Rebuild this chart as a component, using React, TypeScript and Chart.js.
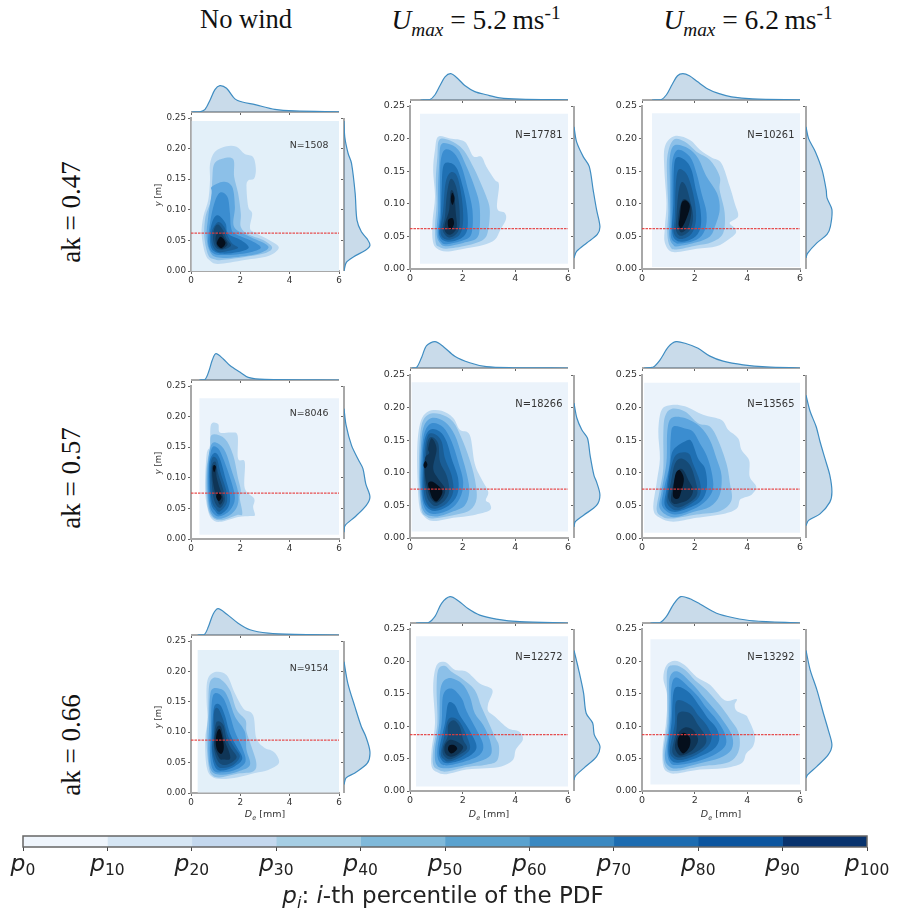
import React, { useEffect, useRef } from "react";
import { Chart, registerables } from "chart.js";

Chart.register(...registerables);

// ---------- data (De in mm, y in cm, flat pairs De,y) ----------
const rowLabels = ["ak = 0.47", "ak = 0.57", "ak = 0.66"];
const sampleCounts = [1508, 17781, 10261, 8046, 18266, 13565, 9154, 12272, 13292];
const crestHeights = [0.062, 0.075, 0.087];
const percentileTicks = [0, 10, 20, 30, 40, 50, 60, 70, 80, 90, 100];
const percentileColors = ["#eff5fc", "#d6e6f4", "#c4d8ee", "#a6cee4", "#7fb9da", "#5aa2cf", "#3a88c1", "#1c6cb1", "#0b559f", "#08336e"];
const levelColors = ["#bbd9f1", "#8cc0e8", "#5ea6df", "#3b8dd0", "#1f70b3", "#1a5d95", "#154a76", "#0f3556", "#050f1c"];

const domainA = [0.03, 0, 6, 24.5];
const domainB = [0.38, 0.8, 6, 23.8];
const domainC = [0.38, 0.3, 6, 23.9];
const domainD = [0.34, 0.7, 6, 23];
const domainE = [0.06, 1, 6, 23.9];
const domainF = [0.08, 0.8, 6, 23.8];
const domainG = [0.27, 0.1, 6, 23.5];
const domainH = [0.23, 0.7, 6, 23.9];
const domainI = [0.32, 1, 6, 23.4];

const contoursA = [
  [1.1,1.15,2.18,1.8,3.13,2.45,3.56,3.85,3.13,5.15,2.52,6.4,2.39,7.2,2.48,9.4,2.32,10.5,2.25,13.75,2.32,14.8,2.56,15.1,2.63,16.7,2.52,18.6,2.18,19.1,1.85,20.3,1.44,20.4,0.97,19.5,0.77,17.5,0.77,14.8,0.7,11.6,0.5,8.9,0.43,6.1,0.57,2.9,0.77,1.7],
  [1.24,1.8,2.18,2.3,2.99,2.9,3.29,3.85,2.92,5.05,2.32,6,2.02,7.2,2.02,9.4,1.91,12.7,1.75,15.4,1.72,18.2,1.31,18.4,0.94,17.5,0.86,14.8,0.81,11.6,0.59,8.9,0.54,5.6,0.7,2.6,0.94,1.9],
  [0.84,13.75,1.31,14.6,1.67,13.75,1.78,10.5,1.75,7.2,2.39,5.6,2.99,4.5,3.13,3.7,2.72,2.8,1.91,2.3,1.1,2.2,0.77,3.15,0.63,5.6,0.7,8.9,0.84,12.7],
  [1.17,12.8,1.48,12.1,1.58,9.4,1.62,7.2,1.78,6.1,2.45,4.95,2.83,3.8,2.32,3,1.37,2.6,0.9,2.9,0.7,4.5,0.77,7.8,0.94,11],
  [1.1,9.1,1.4,7.8,1.51,6.1,2.05,5,2.34,3.8,1.91,3.1,1.24,2.85,0.84,3.65,0.77,6.1,0.9,8.4],
  [1.1,8,1.35,7.2,1.48,5.8,1.67,4.5,1.91,3.8,1.54,3.3,1.1,3.1,0.86,4.2,0.84,6.4],
  [1.1,7.6,1.31,6.6,1.44,5.25,1.62,4.15,1.31,3.5,1.04,3.7,0.9,5,0.94,6.9],
  [1.17,6.4,1.37,5.25,1.48,4.3,1.24,3.6,1.04,4.2,1,5.6],
  [1.2,5.6,1.4,4.6,1.24,3.75,1.05,4.5],
];
const contoursB = [
  [1.39,2.7,2.15,3.2,2.78,3.7,3.22,4.5,3.43,6,3.64,7.55,3.6,8.6,3.31,9.3,3.38,12.9,3.22,13.7,2.9,15.7,2.71,17.2,2.4,17.3,2.08,19.5,1.52,20,1.07,20.3,0.95,18.3,0.88,15.2,0.95,11.1,0.86,7.55,0.86,4.5,1.01,3.2],
  [1.39,3.1,2.15,3.6,2.78,4.5,2.97,6,3.03,9.1,2.9,11.1,2.63,13.7,2.4,15.7,2.02,18.3,1.52,19.7,1.11,19.8,1.04,17.2,0.98,13.7,1.01,10.1,0.95,6.5,0.98,4,1.11,3.4],
  [1.39,3.5,2.02,4,2.53,4.7,2.65,6.5,2.63,10.1,2.4,13.2,2.15,15.7,1.83,18.3,1.45,19.2,1.17,19,1.11,16.2,1.07,12.7,1.07,9.1,1.01,5.5,1.14,4],
  [1.39,3.8,2.02,4.4,2.34,5.5,2.37,9.1,2.17,12.7,1.96,15.7,1.67,17.8,1.33,18.3,1.17,16.7,1.14,13.2,1.14,9.1,1.07,5.5,1.17,4.2],
  [1.39,4.2,1.89,4.6,2.17,6,2.17,9.1,2,12.7,1.77,15.5,1.49,16.3,1.26,15.7,1.2,12.1,1.17,8.1,1.11,5.3],
  [1.45,4.5,1.89,5.3,2.02,7.55,1.96,11.1,1.79,14.2,1.54,14.8,1.35,13.2,1.26,9.1,1.16,5.5],
  [1.49,4.85,1.83,5.8,1.89,8.1,1.83,11.1,1.7,13.2,1.52,13.7,1.39,11.1,1.33,8.1,1.24,6],
  [1.52,5.25,1.77,6.3,1.74,8.6,1.67,11.6,1.54,11.9,1.49,9.1,1.33,7,1.33,5.8],
  [1.54,6,1.67,6.9,1.62,7.8,1.45,7.55,1.45,6.5],
  [1.62,9.85,1.69,10.9,1.6,11.7,1.55,10.6],
];
const contoursC = [
  [1.19,2.6,2.07,3.1,2.83,3.5,3.27,4.5,3.56,5.5,3.52,6.3,3.33,7.1,3.65,8.1,3.52,10.1,3.33,12.7,3.02,16.2,2.64,17.1,2.2,18.3,1.82,19.8,1.25,20.4,0.87,18.8,0.85,15.2,0.93,10.1,0.87,6.5,0.87,4],
  [1.31,3,2.07,3.6,2.64,4.1,3.08,5.5,3.14,8.6,2.95,12.1,2.95,14.2,2.58,16.7,2.07,18,1.63,19.5,1.19,19.8,0.96,17.2,0.96,13.2,1,9.1,0.96,5.5,1.06,3.5],
  [1.38,3.5,2.07,4.1,2.58,5,2.77,6.5,2.95,9.1,2.85,11.6,2.45,14.2,2.13,17,1.76,18.5,1.25,19,1.06,17.2,1.06,13.2,1.06,8.6,1.04,5,1.19,3.7],
  [1.44,3.9,2.07,4.5,2.39,6,2.45,8.6,2.26,11.6,2.07,14.7,1.82,17.2,1.38,18.3,1.16,16.7,1.12,12.7,1.12,8.1,1.1,5,1.25,4.1],
  [1.44,4.2,1.94,4.7,2.22,6.3,2.22,9.1,2.05,12.1,1.88,15.2,1.63,16.7,1.31,17.1,1.21,15.2,1.19,10.1,1.15,5.5],
  [1.48,4.6,1.88,5.4,2.05,7.55,2,10.4,1.82,13.4,1.63,14.9,1.38,15.2,1.28,12.7,1.25,8.1,1.21,5.5],
  [1.48,5.1,1.82,6,1.94,8.1,1.82,10.6,1.67,12.7,1.5,13.3,1.38,11.6,1.31,8.1,1.29,6],
  [1.5,5.6,1.76,6.5,1.88,9.1,1.76,10.4,1.54,10.6,1.4,8.6,1.38,6.5],
  [1.5,6.3,1.67,7.55,1.82,9.6,1.67,10.5,1.5,10.1,1.44,8.1,1.4,6.8],
];
const contoursD = [
  [1.17,2.8,1.91,3.6,2.39,3.75,2.59,3.9,2.52,5.2,2.56,6.6,2.18,8.3,2.18,12.6,1.91,13.1,1.89,16.9,1.64,17.4,1.17,17.4,1.1,18.8,0.81,18.7,0.77,15.3,0.63,13.7,0.57,8.2,0.67,5,0.84,3.3],
  [1.17,3.05,1.85,3.9,2.08,4.1,1.98,6.6,2.02,8,1.91,9.9,1.71,13.7,1.37,16.4,0.84,17,0.77,14.8,0.63,11.5,0.63,7.1,0.77,4.1],
  [1.17,3.3,1.64,4.1,1.89,5.5,1.91,7.7,1.67,10.9,1.4,14.2,1.1,15.6,0.81,15.3,0.66,10.9,0.7,6,0.86,3.9],
  [1.17,3.7,1.58,4.7,1.78,6.6,1.64,9.3,1.33,12.9,1.1,14.8,0.84,14.8,0.7,10.9,0.74,6,0.9,4.2],
  [1.17,4,1.51,5.2,1.58,7.1,1.4,9.9,1.17,13.1,0.97,14.1,0.77,12.9,0.74,9.9,0.8,6,0.97,4.6],
  [1.17,4.5,1.44,5.8,1.44,7.7,1.21,10.7,1.04,13.1,0.84,13.1,0.77,9.9,0.84,6.3,1,5],
  [1.17,5.1,1.37,6.3,1.31,8,1.1,10.7,1,12.6,0.84,12,0.84,9.3,0.94,6.3],
  [1.17,5.6,1.31,6.6,1.17,8.2,1.04,10.1,1.01,11.8,0.86,11.8,0.89,9.3,1.01,7.1],
  [1.13,6.2,1.24,6.9,1.1,7.6,1.02,6.9],
  [0.94,10.9,1.01,11.8,0.93,12.1,0.89,11.5],
];
const contoursE = [
  [0.88,2.6,1.64,3.1,2.4,3.5,3.03,4.25,3.03,5.3,2.88,5.8,2.97,7.1,2.71,9.1,2.46,11.4,2.27,15.8,1.89,16.6,1.64,18.4,1.2,19.5,0.69,19.4,0.4,17.8,0.28,14.3,0.28,9.6,0.35,5,0.5,3.5],
  [0.88,3,1.64,3.5,2.27,4.25,2.53,6.05,2.46,9.1,2.25,12.2,1.96,15.3,1.64,17.8,1.14,19,0.69,18.9,0.44,17.3,0.35,13.2,0.35,8.1,0.44,4.25,0.63,3.3],
  [0.95,3.3,1.58,4,2.08,5,2.25,7.1,2.17,9.6,1.96,12.7,1.7,15.8,1.33,17.8,0.82,18.4,0.5,16.8,0.4,12.7,0.38,8.1,0.5,4.25],
  [0.95,3.7,1.52,4.4,1.89,6.05,2.02,8.6,1.83,11.7,1.58,14.8,1.26,17,0.82,17.6,0.54,16,0.44,12.2,0.42,7.6,0.57,4.5],
  [0.95,4.15,1.45,4.9,1.79,6.6,1.83,9.1,1.58,12.2,1.39,14.8,1.14,16.3,0.76,16.6,0.54,14.8,0.48,10.7,0.48,6.6,0.63,4.8],
  [0.95,4.5,1.39,5.3,1.64,7.1,1.58,9.6,1.33,12.2,1.2,14.8,0.95,15.9,0.69,15.8,0.57,13.7,0.51,9.6,0.54,6.6,0.69,5],
  [0.98,4.9,1.33,5.8,1.49,7.3,1.39,9.6,1.14,11.7,1.07,14.5,0.82,15.5,0.67,14.8,0.61,12.7,0.54,9.6,0.63,6.6,0.76,5.5],
  [1.01,5.4,1.26,6.3,1.33,7.6,1.07,9.1,0.88,10.7,1.01,13.7,0.82,15.3,0.69,13.7,0.73,13,0.57,12.2,0.57,9.6,0.69,7.1,0.82,5.9],
  [1.01,5.6,1.2,6.6,1.2,7.5,0.88,8.6,0.69,8.4,0.76,7.1,0.86,6.05],
  [0.57,10.7,0.66,11.2,0.59,11.8,0.51,11.2],
];
const contoursF = [
  [1.19,2.5,2.07,3.1,3.08,3.7,3.59,4.5,3.71,5.8,3.84,6.15,4.15,6.6,4.34,7.85,4.09,9.4,4.07,11.9,3.78,13.5,3.65,15.3,3.27,16.6,3.02,18.1,2.32,18.9,1.63,20.2,1.12,20.4,0.74,19.6,0.62,16.3,0.68,12.2,0.56,8.6,0.43,4.5,0.68,3.1],
  [1.19,3,2.07,3.6,2.95,4.1,3.4,5.8,3.33,8.6,3.21,11.4,2.89,15,2.58,17.1,2.13,17.6,1.63,19.4,1.12,19.8,0.87,18.6,0.81,15.8,0.81,10.7,0.66,7.1,0.56,4.25,0.81,3.2],
  [1.19,3.2,1.94,4,2.58,4.8,2.95,6.6,3.02,9.6,2.83,12.2,2.58,15,2.2,17.1,1.63,18.4,1.12,18.4,0.96,16.3,0.93,11.7,0.74,7.1,0.68,4.5],
  [1.25,3.6,1.94,4.4,2.45,5.8,2.7,7.6,2.64,10.2,2.45,12.7,2.2,14.5,1.94,16.3,1.63,16.8,1.19,17.1,1.09,15.3,1.04,11.2,0.81,7.1,0.78,4.8],
  [1.25,4,1.94,4.9,2.32,6.05,2.47,8.1,2.39,10.7,2.13,12.2,1.88,14.8,1.63,14.8,1.19,13.5,1.06,11.2,0.93,7.6,0.87,5],
  [1.31,4.25,1.88,5.3,2.2,6.6,2.2,8.6,1.94,11.4,1.76,13,1.31,12.8,1.1,10.7,0.97,7.1,0.96,5.3],
  [1.31,4.7,1.82,5.5,2.1,6.8,2.01,9.1,1.82,11.2,1.5,12.2,1.25,11.4,1.1,8.6,1,6.05],
  [1.38,5.3,1.76,5.9,1.94,7.3,1.76,8.9,1.57,10.4,1.38,10.4,1.21,8.6,1.1,6.05,1.19,5.3],
  [1.38,6.05,1.5,7.3,1.59,9.1,1.44,10.4,1.28,9.9,1.19,7.6,1.19,6.3],
];
const contoursG = [
  [1.24,2.3,1.91,2.6,2.59,3.3,3.13,3.8,3.56,4.9,3.46,6.3,3.26,7,2.99,7.4,2.65,9,2.52,12.8,2.12,13.9,1.78,16.4,1.44,19.4,0.97,19.9,0.67,18.6,0.63,15.3,0.67,12,0.57,8.7,0.63,4.4,0.84,2.7],
  [1.24,2.6,1.91,3.2,2.52,3.55,2.65,4.9,2.45,7.65,2.25,10.1,2.21,12,1.85,13.7,1.58,16.9,1.24,18.6,0.9,18.9,0.73,17.5,0.7,13.1,0.63,8.7,0.73,4.1,0.9,2.8],
  [1.24,3,1.91,3.55,2.39,4.6,2.25,7.1,2.18,10.1,1.78,12.6,1.54,15.3,1.31,16.9,0.9,17.2,0.77,15.8,0.74,11.5,0.7,7.1,0.81,3.8],
  [1.31,3.4,1.85,3.9,2.21,5.2,2.08,7.4,1.78,10.1,1.58,12.8,1.31,15.6,0.97,16.4,0.84,14.8,0.81,10.4,0.77,6.6,0.9,3.8],
  [1.31,3.7,1.78,4.4,2.08,5.7,1.85,7.65,1.58,9.8,1.37,12.8,1.17,14.5,0.94,14.2,0.86,10.4,0.84,6.6,1,4.1],
  [1.31,4.1,1.71,4.6,1.98,6,1.78,7.4,1.51,9.3,1.31,12,1.1,13.9,0.94,13.4,0.92,9.8,0.86,7.1,1.04,4.6],
  [1.37,4.6,1.71,5.2,1.85,6,1.62,7.4,1.44,9,1.31,11.2,1.04,11.7,0.94,9.3,0.94,7.1,1.1,5.2],
  [1.31,5.5,1.58,5.6,1.54,6.8,1.35,8.7,1.21,10.9,1.04,10.7,0.94,8.2,1.04,6.6,1.17,5.6],
  [1.24,6.45,1.33,7.4,1.28,9,1.17,10.5,1.04,9.8,1.01,7.9,1.1,6.8],
];
const contoursH = [
  [1.39,2.6,2.15,3.3,2.9,3.5,3.47,3.8,3.91,4.8,4.02,6.4,4.29,8,4.14,9.2,3.72,9.7,3.22,11.5,2.97,12.3,2.97,13.5,3.13,15.6,2.65,16.6,2.15,18.4,1.7,18.7,1.33,19.9,1.01,19.4,0.88,16.1,0.95,10.5,0.82,6.4,0.82,3.8,1.04,2.9],
  [1.39,3,2.15,3.7,2.9,4.05,3.31,4.7,3.38,6.9,3.22,8.4,2.97,10.7,2.71,13,2.46,15.6,1.96,17.4,1.58,18.4,1.33,19.3,1.07,18.7,1.01,15.6,1.04,10.5,0.88,6.4,0.88,4.05,1.07,3.3],
  [1.39,3.5,2.15,4.05,2.78,4.8,3.09,5.8,3.03,7.9,2.78,10.2,2.46,12,2.27,14.6,1.96,16.6,1.45,17.4,1.16,15.8,1.11,10.5,0.95,6.4,1.01,4.05],
  [1.39,3.95,2.08,4.55,2.65,5.6,2.78,7.1,2.53,9.4,2.15,12.3,1.96,14.3,1.58,15.8,1.26,14.8,1.2,10.5,1.04,6.4,1.11,4.55],
  [1.45,4.3,2.02,4.9,2.46,6.1,2.5,7.4,2.21,9.7,1.89,11.7,1.7,13.3,1.45,13.5,1.33,10.5,1.11,6.4,1.2,4.8],
  [1.48,4.55,1.96,5.3,2.27,6.4,2.21,7.9,1.96,10.2,1.74,11.2,1.45,11,1.3,8.4,1.17,5.8,1.29,4.9],
  [1.52,4.9,1.89,5.6,2.17,6.6,2.02,7.9,1.89,9.9,1.67,10.9,1.45,10.2,1.43,8.4,1.26,6.9,1.26,5.6],
  [1.54,5.3,1.85,5.8,2.02,6.8,1.79,7.6,1.52,7.9,1.33,7.1,1.33,5.9],
  [1.58,5.8,1.79,6.5,1.67,7.1,1.48,7,1.45,6.3],
];
const contoursI = [
  [1.31,2.7,2.2,3.3,3.08,3.5,3.78,4.3,3.96,5.8,4.22,6.9,4.28,8.7,4.03,11.2,3.94,11.7,3.59,12.4,3.52,13.3,3.59,14.2,3.14,14,2.58,16.4,2.07,17.6,1.63,19.4,1.25,20.1,0.93,19.4,0.81,17.4,0.96,14.6,0.91,10.5,0.78,6.4,0.81,3.8,1,2.9],
  [1.31,3.1,2.2,3.8,3.08,4.2,3.52,5.1,3.71,6.9,3.65,9.2,3.33,11.2,2.95,13.3,2.45,15.6,2.01,17.1,1.63,18.7,1.25,19.4,0.96,18.7,0.96,14.6,0.96,10.5,0.81,5.8,0.93,3.5],
  [1.38,3.5,2.2,4.3,2.95,5.1,3.4,6.4,3.43,8.4,3.14,10.5,2.77,12.5,2.32,14.6,1.94,16.4,1.38,18.4,1.06,17.6,1.04,14,1,9.4,0.87,5.3,1.04,3.8],
  [1.44,4.05,2.2,4.7,2.83,5.8,3.18,7.1,3.14,8.9,2.83,11,2.45,12.8,2.13,14.6,1.76,16.1,1.31,17.5,1.12,16.1,1.09,11.5,0.96,6.4,1.09,4.3],
  [1.44,4.4,2.07,5.1,2.7,6.4,2.93,7.9,2.83,9.7,2.51,11.2,2.2,13,1.82,15.1,1.38,16.1,1.19,15.1,1.12,10.5,1,6.4,1.12,4.7],
  [1.5,4.8,2.07,5.6,2.51,6.9,2.64,8.4,2.45,10.2,2.13,11.7,1.82,13.3,1.31,13.9,1.25,10.5,1.06,6.4,1.19,5.1],
  [1.5,5.2,2.01,5.9,2.39,7.1,2.42,8.4,2.13,10.2,1.82,12,1.38,12,1.31,9.4,1.15,6.4,1.25,5.4],
  [1.54,5.5,1.94,6.4,2.13,7.9,1.94,9.4,1.63,9.8,1.38,8.9,1.25,6.9,1.35,5.8],
  [1.57,5.8,1.8,6.8,1.82,8.2,1.59,9,1.4,8.4,1.35,7.4,1.4,6.6],
];

// marginal densities, flat pairs De,relative density
const topA = [0.03,0,0.36,0.01,0.57,0.1,0.77,0.45,0.97,0.85,1.17,1,1.44,0.9,1.78,0.5,2.08,0.38,2.6,0.28,3.4,0.1,4.2,0.04,6,0.01];
const topB = [0.4,0,0.76,0.02,0.95,0.2,1.14,0.55,1.33,0.88,1.55,1,1.83,0.8,2.08,0.55,2.46,0.32,2.9,0.2,3.41,0.08,4.17,0.03,6,0.005];
const topC = [0.38,0,0.72,0.01,0.93,0.2,1.15,0.6,1.35,0.92,1.55,1,1.8,0.92,2.1,0.7,2.5,0.42,2.9,0.25,3.4,0.12,4.2,0.04,6,0.005];
const topD = [0.34,0,0.57,0.02,0.73,0.35,0.86,0.75,1.01,1,1.31,0.8,1.58,0.55,1.98,0.3,2.32,0.1,2.99,0.02,6,0];
const topE = [0.06,0,0.25,0.02,0.44,0.4,0.63,0.85,0.95,1,1.26,0.82,1.7,0.45,2.27,0.2,2.9,0.05,3.9,0.01,6,0];
const topF = [0.08,0,0.43,0.04,0.68,0.3,1,0.8,1.29,1,1.69,0.92,2.13,0.75,2.58,0.45,3.08,0.26,3.84,0.12,4.72,0.04,6,0];
const topG = [0.27,0,0.54,0.02,0.7,0.3,0.9,0.8,1.1,1,1.44,0.8,1.91,0.45,2.39,0.2,3.13,0.07,4.2,0.02,6,0];
const topH = [0.23,0,0.69,0.01,0.95,0.25,1.2,0.75,1.52,1,1.83,0.85,2.2,0.55,2.65,0.3,3.28,0.15,4.17,0.05,6,0];
const topI = [0.32,0,0.68,0.01,0.93,0.25,1.19,0.7,1.47,1,1.82,0.92,2.2,0.72,2.83,0.37,3.47,0.2,4.23,0.08,6,0];

// flat pairs y in cm,relative density
const sideA = [24.5,0,21.9,0.03,19.2,0.16,17.6,0.29,12.7,0.43,8.3,0.5,6.4,0.67,5.2,0.9,4.2,1,3.4,0.83,2.3,0.36,1.4,0.09,0,0];
const sideB = [21.8,0,19.5,0.1,17.2,0.36,15.7,0.59,12.1,0.74,9.1,0.87,6.5,1,5.3,0.9,4,0.49,2.7,0.1,1.7,0];
const sideC = [21.8,0,20,0.1,18,0.36,15.2,0.62,12.1,0.78,10.9,0.81,9.1,1,6.5,0.94,5.3,0.81,4,0.42,2.4,0.06,1.7,0];
const sideD = [21.3,0,18.6,0.08,15.3,0.29,12.9,0.56,11.5,0.73,9,0.84,6.9,1,5.5,0.86,3.6,0.42,2.2,0.04,1.1,0];
const sideE = [20.7,0,18.4,0.11,16.6,0.3,15.3,0.52,12.7,0.62,9.6,0.77,8.6,0.87,6.6,1,5,0.87,3.5,0.37,2.5,0.05,1.7,0];
const sideF = [21.9,0,19.4,0.16,17.1,0.39,14.8,0.54,12.2,0.73,9.6,0.92,7.1,1,5.5,0.92,3.7,0.54,2.7,0.1,1.9,0];
const sideG = [21.6,0,18,0.15,14.2,0.42,10.9,0.67,9.3,0.84,6.8,1,4.9,0.9,3.3,0.42,2.5,0.08,1.4,0];
const sideH = [21.7,0,18.7,0.18,15.1,0.37,12,0.47,10.5,0.72,8.7,0.78,6.9,1,5.3,0.87,3.5,0.37,2.3,0.05,1.7,0];
const sideI = [21.7,0,18.7,0.16,15.6,0.42,12,0.67,9.4,0.86,7.1,1,5.6,0.86,3.8,0.42,2.5,0.06,2,0];

const domains = [domainA, domainB, domainC, domainD, domainE, domainF, domainG, domainH, domainI];
const contours = [contoursA, contoursB, contoursC, contoursD, contoursE, contoursF, contoursG, contoursH, contoursI];
const tops = [topA, topB, topC, topD, topE, topF, topG, topH, topI];
const sides = [sideA, sideB, sideC, sideD, sideE, sideF, sideG, sideH, sideI];
const backgrounds = ["#e3f0f9", "#ebf3fb", "#ebf3fb", "#ebf3fb", "#ebf3fb", "#ebf3fb", "#e3f0f9", "#ebf3fb", "#ebf3fb"];

// ---------- layout ----------
const colX = [
  { x0: 191, x1: 339, side: 344 },
  { x0: 410, x1: 568, side: 574 },
  { x0: 642, x1: 800, side: 806 },
];
const rowY = [
  [{ top: 118, bot: 271, base: 112 }, { top: 106, bot: 269, base: 100 }, { top: 106, bot: 269, base: 100 }],
  [{ top: 386, bot: 539, base: 380 }, { top: 375, bot: 538, base: 368 }, { top: 375, bot: 538, base: 368 }],
  [{ top: 641, bot: 793, base: 635 }, { top: 629, bot: 791, base: 623 }, { top: 629, bot: 791, base: 623 }],
];

const SPINE = "#a8a8a8";
const TICK = "#666666";
const TEXT = "#333333";
const SANS = "'DejaVu Sans'";
const SERIF = "'Liberation Serif'";

const pairs = (flat: number[], fx: (v: number) => number, fy: (v: number) => number) => {
  const out: { x: number; y: number }[] = [];
  for (let i = 0; i < flat.length; i += 2) out.push({ x: fx(flat[i]), y: fy(flat[i + 1]) });
  return out;
};
const same = (v: number) => v;
const cmToM = (v: number) => v / 100;

// Fills each contour dataset as a closed spline through the points the scales positioned.
const contourPlugin = {
  id: "contourFill",
  beforeDatasetDraw(chart: any, args: any) {
    const ds = chart.data.datasets[args.index];
    if (!ds.contourFill) return;
    const pts = args.meta.data;
    const n = pts.length;
    const ctx = chart.ctx;
    ctx.save();
    ctx.fillStyle = ds.contourFill;
    ctx.beginPath();
    if (ds.sharp) {
      pts.forEach((p: any, i: number) => (i ? ctx.lineTo(p.x, p.y) : ctx.moveTo(p.x, p.y)));
    } else {
      ctx.moveTo(pts[0].x, pts[0].y);
      for (let i = 0; i < n; i++) {
        const p0 = pts[(i - 1 + n) % n];
        const p1 = pts[i];
        const p2 = pts[(i + 1) % n];
        const p3 = pts[(i + 2) % n];
        ctx.bezierCurveTo(p1.x + (p2.x - p0.x) / 6, p1.y + (p2.y - p0.y) / 6, p2.x - (p3.x - p1.x) / 6, p2.y - (p3.y - p1.y) / 6, p2.x, p2.y);
      }
    }
    ctx.closePath();
    ctx.fill();
    ctx.restore();
  },
  afterDatasetsDraw(chart: any, _a: any, opts: any) {
    if (!opts || !opts.text) return;
    const ctx = chart.ctx;
    ctx.save();
    ctx.font = `${opts.size}px ${SANS}`;
    ctx.fillStyle = TEXT;
    ctx.textAlign = "left";
    ctx.textBaseline = "middle";
    ctx.fillText(opts.text, chart.scales.x.getPixelForValue(opts.x), chart.scales.y.getPixelForValue(opts.y));
    ctx.restore();
  },
};

// Frame of the colour bar and its p-with-subscript tick labels at the scale's tick positions.
const barPlugin = {
  id: "barFrame",
  afterDraw(chart: any) {
    const { left, top, width, height, bottom } = chart.chartArea;
    const ctx = chart.ctx;
    ctx.save();
    ctx.strokeStyle = "#666666";
    ctx.lineWidth = 1.5;
    ctx.strokeRect(left, top, width, height);
    ctx.fillStyle = "#222222";
    ctx.textAlign = "left";
    ctx.textBaseline = "alphabetic";
    chart.scales.x.ticks.forEach((t: any) => {
      const mainFont = `italic 23.5px ${SANS}`;
      const subFont = `15.5px ${SANS}`;
      const sub = String(t.value);
      ctx.font = mainFont;
      const w1 = ctx.measureText("p").width;
      ctx.font = subFont;
      const w2 = ctx.measureText(sub).width;
      const x = chart.scales.x.getPixelForValue(t.value) - (w1 + w2) / 2;
      ctx.font = mainFont;
      ctx.fillText("p", x, bottom + 24);
      ctx.font = subFont;
      ctx.fillText(sub, x + w1, bottom + 27.5);
    });
    ctx.restore();
  },
};

const fixedSize = (prop: "width" | "height", v: number) => (scale: any) => {
  scale[prop] = v;
};

function mainConfig(i: number, col: number, row: number) {
  const dom = domains[i];
  const rect = [dom[0], dom[1], dom[2], dom[1], dom[2], dom[3], dom[0], dom[3]];
  const polys = contours[i];
  const tickSize = col === 0 ? 8.8 : 9.5;
  const datasets: any[] = [
    {
      data: pairs(rect, same, cmToM),
      contourFill: backgrounds[i],
      sharp: true,
      order: 100,
      pointRadius: 0,
      showLine: false,
    },
  ];
  // the last array of a panel that has ten is the second dark lobe of the innermost level
  polys.forEach((poly, k) => {
    const lvl = Math.min(k, levelColors.length - 1);
    datasets.push({
      data: pairs(poly, same, cmToM),
      contourFill: levelColors[lvl],
      order: 90 - k,
      pointRadius: 0,
      showLine: false,
    });
  });
  datasets.push({
    data: [{ x: 0, y: crestHeights[row] }, { x: 6, y: crestHeights[row] }],
    showLine: true,
    borderColor: "rgba(230,60,60,0.9)",
    borderWidth: 1.3,
    borderDash: [2.5, 1],
    pointRadius: 0,
    order: 0,
  });
  return {
    type: "scatter",
    data: { datasets },
    plugins: [contourPlugin],
    options: {
      responsive: false,
      animation: false,
      layout: { padding: { top: 8, right: 8 } },
      plugins: {
        legend: { display: false },
        tooltip: { enabled: false },
        contourFill: { text: `N=${sampleCounts[i]}`, x: 4.0, y: 0.2055, size: col === 0 ? 9.4 : 9.9 },
      },
      scales: {
        x: {
          type: "linear",
          min: 0,
          max: 6,
          afterFit: fixedSize("height", 18),
          border: { color: SPINE, width: 2 },
          grid: { drawOnChartArea: false, color: TICK, tickLength: 3 },
          ticks: { stepSize: 2, maxRotation: 0, autoSkip: false, padding: 1, color: TEXT, font: { family: SANS, size: tickSize } },
        },
        y: {
          type: "linear",
          min: 0,
          max: 0.25,
          afterFit: fixedSize("width", 36),
          border: { color: SPINE, width: 2 },
          grid: { drawOnChartArea: false, color: TICK, tickLength: 3 },
          ticks: {
            stepSize: 0.05,
            autoSkip: false,
            padding: 2,
            color: TEXT,
            font: { family: SANS, size: tickSize },
            callback: (v: number) => v.toFixed(2),
          },
        },
      },
    },
  };
}

const marginalStyle = {
  borderColor: "#3f8dc2",
  backgroundColor: "rgba(60,125,180,0.28)",
  borderWidth: 1.2,
  pointRadius: 0,
  tension: 0.3,
  fill: "origin",
};

function topConfig(i: number) {
  return {
    type: "line",
    data: { datasets: [{ ...marginalStyle, data: pairs(tops[i], same, same) }] },
    options: {
      responsive: false,
      animation: false,
      plugins: { legend: { display: false }, tooltip: { enabled: false } },
      scales: {
        x: {
          type: "linear",
          min: 0,
          max: 6,
          afterFit: fixedSize("height", 4),
          border: { color: SPINE, width: 2 },
          grid: { drawOnChartArea: false, color: TICK, tickLength: 3 },
          ticks: { stepSize: 2, display: false },
        },
        y: { type: "linear", display: false, min: 0, max: 1.14 },
      },
    },
  };
}

function sideConfig(i: number) {
  return {
    type: "line",
    data: { datasets: [{ ...marginalStyle, data: pairs(sides[i], same, same).map((p) => ({ x: p.y, y: p.x / 100 })).reverse() }] },
    options: {
      responsive: false,
      animation: false,
      indexAxis: "y",
      plugins: { legend: { display: false }, tooltip: { enabled: false } },
      scales: {
        x: { type: "linear", display: false, min: 0, max: 1.08 },
        y: {
          type: "linear",
          min: 0,
          max: 0.25,
          afterFit: fixedSize("width", 4),
          border: { color: SPINE, width: 2 },
          grid: { drawOnChartArea: false, color: TICK, tickLength: 3 },
          ticks: { stepSize: 0.05, display: false },
        },
      },
    },
  };
}

function colorbarConfig() {
  return {
    type: "bar",
    data: {
      labels: ["PDF"],
      datasets: percentileColors.map((c, k) => ({
        data: [percentileTicks[k + 1] - percentileTicks[k]],
        backgroundColor: c,
        borderWidth: 0,
        barPercentage: 1,
        categoryPercentage: 1,
      })),
    },
    plugins: [barPlugin],
    options: {
      responsive: false,
      animation: false,
      indexAxis: "y",
      layout: { padding: { left: 23, right: 31, top: 1 } },
      plugins: { legend: { display: false }, tooltip: { enabled: false } },
      scales: {
        x: {
          type: "linear",
          stacked: true,
          min: 0,
          max: 100,
          afterFit: fixedSize("height", 40),
          border: { display: false },
          grid: { drawOnChartArea: false, color: "#444444", tickLength: 4 },
          ticks: { stepSize: 10, maxRotation: 0, autoSkip: false, display: false },
        },
        y: { stacked: true, display: false },
      },
    },
  };
}

function ChartBox({ left, top, width, height, make }: { left: number; top: number; width: number; height: number; make: () => any }) {
  const ref = useRef<HTMLCanvasElement | null>(null);
  useEffect(() => {
    const chart = new Chart(ref.current as HTMLCanvasElement, make());
    return () => chart.destroy();
  }, []);
  return <canvas ref={ref} width={width} height={height} style={{ position: "absolute", left, top, width, height, display: "block" }} />;
}

const label = (left: number, top: number, extra: React.CSSProperties = {}): React.CSSProperties => ({
  position: "absolute",
  left,
  top,
  whiteSpace: "nowrap",
  lineHeight: 1,
  ...extra,
});

function Title({ cx, size, children }: { cx: number; size: number; children: React.ReactNode }) {
  return (
    <div style={label(cx, 6, { transform: "translateX(-50%)", fontFamily: SERIF, fontSize: size, color: "#111" })}>{children}</div>
  );
}

function WindTitle({ cx, speed }: { cx: number; speed: string }) {
  return (
    <Title cx={cx} size={27.5}>
      <i>
        U<sub style={{ fontSize: "70%", lineHeight: 0 }}>max</sub>
      </i>
      {` = ${speed}\u2009ms`}
      <sup style={{ fontSize: "70%", lineHeight: 0 }}>-1</sup>
    </Title>
  );
}

export default function App() {
  const cells: React.ReactNode[] = [];
  for (let row = 0; row < 3; row++) {
    for (let col = 0; col < 3; col++) {
      const i = row * 3 + col;
      const c = colX[col];
      const r = rowY[row][col];
      cells.push(
        <ChartBox key={`t${i}`} left={c.x0} top={r.base - 30} width={c.x1 - c.x0} height={34} make={() => topConfig(i)} />,
        <ChartBox key={`s${i}`} left={c.side - 4} top={r.top} width={32} height={r.bot - r.top} make={() => sideConfig(i)} />,
        <ChartBox key={`m${i}`} left={c.x0 - 36} top={r.top - 8} width={c.x1 - c.x0 + 44} height={r.bot - r.top + 26} make={() => mainConfig(i, col, row)} />
      );
    }
  }
  return (
    <div style={{ position: "absolute", left: 0, top: 0, width: 898, height: 914, overflow: "hidden", background: "#fff" }}>
      {cells}
      <Title cx={246} size={26.5}>No wind</Title>
      <WindTitle cx={476} speed="5.2" />
      <WindTitle cx={748} speed="6.2" />
      {rowLabels.map((t, k) => (
        <div
          key={t}
          style={label(71, [212, 478, 745][k], {
            transform: "translate(-50%,-50%) rotate(-90deg)",
            fontFamily: SERIF,
            fontSize: 27,
            color: "#111",
          })}
        >
          {t}
        </div>
      ))}
      {[0, 1, 2].map((k) => (
        <div
          key={k}
          style={label(158, (rowY[k][0].top + rowY[k][0].bot) / 2, {
            transform: "translate(-50%,-50%) rotate(-90deg)",
            fontFamily: SANS,
            fontSize: 8.5,
            color: TEXT,
          })}
        >
          <i>y</i> [m]
        </div>
      ))}
      {[265, 489, 721].map((x) => (
        <div key={x} style={label(x, 814, { transform: "translate(-50%,-50%)", fontFamily: SANS, fontSize: 9.5, color: TEXT })}>
          <i>
            D<sub style={{ fontSize: "70%", lineHeight: 0 }}>e</sub>
          </i>{" "}
          [mm]
        </div>
      ))}
      <ChartBox left={0} top={835} width={898} height={52} make={colorbarConfig} />
      <div style={label(443, 895, { transform: "translate(-50%,-50%)", fontFamily: SANS, fontSize: 23, color: "#222" })}>
        <i>
          p<sub style={{ fontSize: "70%", lineHeight: 0 }}>i</sub>
        </i>
        : <i>i</i>-th percentile of the PDF
      </div>
    </div>
  );
}
